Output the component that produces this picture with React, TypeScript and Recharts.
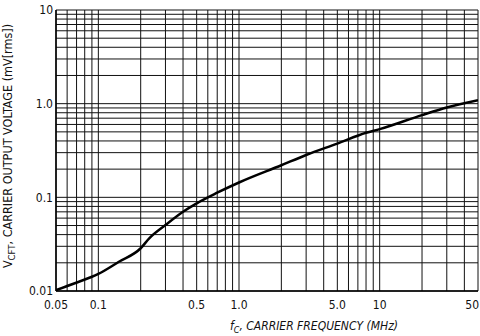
import React from "react";
import { LineChart, Line, XAxis, YAxis, CartesianGrid, Label } from "recharts";

// carrier frequency (MHz) vs carrier output voltage (mV rms)
const freqMHz = [0.05, 0.068, 0.1, 0.14, 0.2, 0.23, 0.3, 0.4, 0.5, 0.7, 1, 2, 3, 5, 8, 10, 20, 30, 50];
const voltage = [0.0102, 0.0121, 0.0152, 0.0205, 0.0286, 0.0365, 0.0506, 0.0702, 0.0863, 0.112, 0.144, 0.22, 0.283, 0.375, 0.489, 0.535, 0.755, 0.91, 1.09];

// log grid lines
const xTicks = [
  0.05, 0.06, 0.07, 0.08, 0.09,
  0.1, 0.2, 0.3, 0.4, 0.5, 0.6, 0.7, 0.8, 0.9,
  1, 2, 3, 4, 5, 6, 7, 8, 9,
  10, 20, 30, 40, 50,
];
const yTicks = [
  0.01, 0.02, 0.03, 0.04, 0.05, 0.06, 0.07, 0.08, 0.09,
  0.1, 0.2, 0.3, 0.4, 0.5, 0.6, 0.7, 0.8, 0.9,
  1, 2, 3, 4, 5, 6, 7, 8, 9,
  10,
];

// only these ticks get a label
const xLabelValues = [0.05, 0.1, 0.5, 1, 5, 10, 50];
const xLabelText = ["0.05", "0.1", "0.5", "1.0", "5.0", "10", "50"];
const yLabelValues = [0.01, 0.1, 1, 10];
const yLabelText = ["0.01", "0.1", "1.0", "10"];

const FONT = "'Liberation Sans Narrow', 'DejaVu Sans Condensed', 'Liberation Sans', sans-serif";

function labelFor(values: number[], texts: string[]) {
  return (v: number) => {
    const i = values.findIndex((x) => Math.abs(x - v) < v * 1e-6);
    return i >= 0 ? texts[i] : "";
  };
}

const xLabel = labelFor(xLabelValues, xLabelText);

// last label sits flush with the right edge, as in the original
function XTick(props: any) {
  const { x, y, payload } = props;
  const text = xLabel(payload.value);
  if (!text) return null;
  const last = payload.value === xLabelValues[xLabelValues.length - 1];
  return (
    <text
      x={last ? x + 1 : x}
      y={y}
      dy="0.71em"
      textAnchor={last ? "end" : "middle"}
      fontSize={12}
      fill="#111"
      fontFamily={FONT}
    >
      {text}
    </text>
  );
}

const data = freqMHz.map((f, i) => ({ f, v: voltage[i] }));

export default function App() {
  return (
    <div style={{ position: "absolute", left: 0, top: 0, background: "#fff" }}>
      <LineChart
        width={480}
        height={336}
        data={data}
        margin={{ top: 10, right: 2, left: 0, bottom: 25 }}
      >
        <CartesianGrid stroke="#111" strokeWidth={1} />
        <XAxis
          dataKey="f"
          type="number"
          scale="log"
          domain={[0.05, 50]}
          ticks={xTicks}
          interval={0}
          allowDataOverflow
          tick={<XTick />}
          tickLine={false}
          tickSize={4}
          tickMargin={5}
          axisLine={{ stroke: "#000", strokeWidth: 1.5 }}
          height={20}
        >
          <Label
            content={() => (
              <text x={314} y={330} textAnchor="middle" fontSize={12} fontStyle="italic" fill="#111" fontFamily={FONT}>
                f<tspan fontSize={9} dy={3}>C</tspan>
                <tspan dy={-3}>, CARRIER FREQUENCY (MHz)</tspan>
              </text>
            )}
          />
        </XAxis>
        <YAxis
          dataKey="v"
          type="number"
          scale="log"
          domain={[0.01, 10]}
          ticks={yTicks}
          interval={0}
          allowDataOverflow
          tickFormatter={labelFor(yLabelValues, yLabelText)}
          tickLine={false}
          tickSize={3}
          tickMargin={0}
          axisLine={{ stroke: "#000", strokeWidth: 1.5 }}
          width={56}
          tick={{ fontSize: 12, fill: "#111", fontFamily: FONT }}
        >
          <Label
            content={() => (
              <text
                x={12}
                y={146}
                transform="rotate(-90 12 146)"
                textAnchor="middle"
                fontSize={12.5}
                fill="#111"
                fontFamily={FONT}
              >
                V<tspan fontSize={9.5} dy={3}>CFT</tspan>
                <tspan dy={-3}>, CARRIER OUTPUT VOLTAGE (mV[rms])</tspan>
              </text>
            )}
          />
        </YAxis>
        <Line
          type="monotone"
          dataKey="v"
          stroke="#000"
          strokeWidth={2.5}
          dot={false}
          isAnimationActive={false}
        />
      </LineChart>
    </div>
  );
}
